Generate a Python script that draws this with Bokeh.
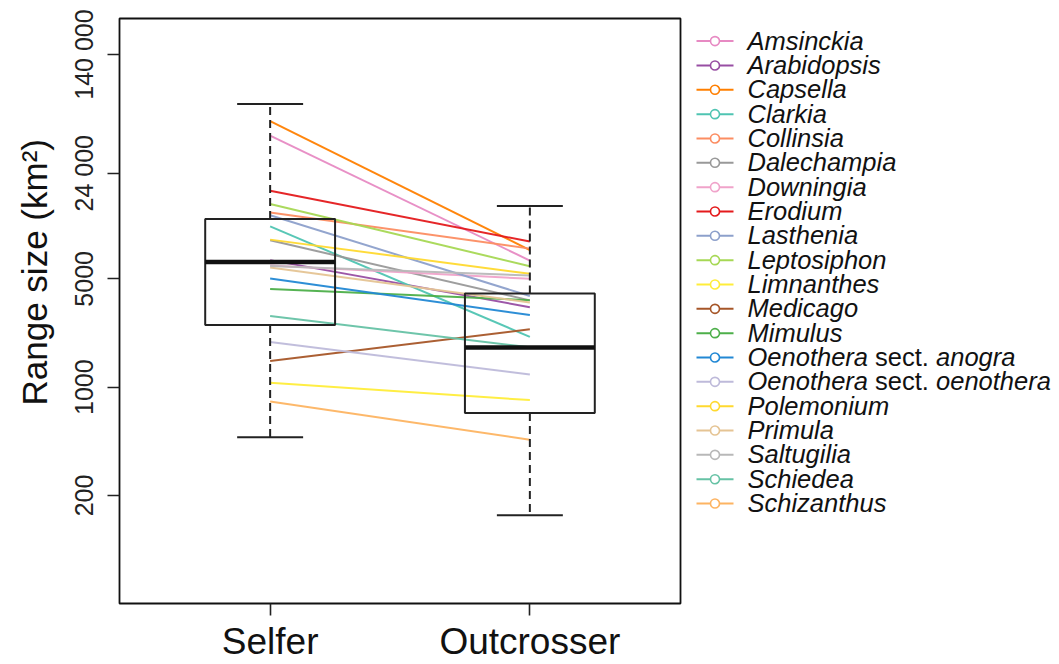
from bokeh.plotting import figure
from bokeh.models import Range1d, FixedTicker, Title, ColumnDataSource
from bokeh.layouts import row
from bokeh.embed import file_html
from bokeh.resources import INLINE
from bokeh.core.properties import value

# ---------------- data ----------------
groups = ["Selfer", "Outcrosser"]

genera = ["Amsinckia", "Arabidopsis", "Capsella", "Clarkia", "Collinsia",
          "Dalechampia", "Downingia", "Erodium", "Lasthenia", "Leptosiphon",
          "Limnanthes", "Medicago", "Mimulus", "Oenothera sect. anogra",
          "Oenothera sect. oenothera", "Polemonium", "Primula", "Saltugilia",
          "Schiedea", "Schizanthus"]

selfer_range = [41900, 6600, 52100, 10900, 13400,
                8860, 6090, 18500, 12860, 15190,
                1066, 1476, 4300, 5020,
                1956, 8950, 5910, 6040,
                2874, 809]

outcrosser_range = [6560, 3280, 7660, 2110, 7830,
                    3630, 5000, 8690, 3870, 6030,
                    825, 2360, 3640, 2920,
                    1207, 5385, 3520, 5250,
                    1808, 458]

colors = ["#E78AC3", "#984EA3", "#FF7F00", "#4FC4B2", "#FC8D62",
          "#999999", "#F0A3CA", "#E41A1C", "#8DA0CB", "#A6D854",
          "#FFED3A", "#A65628", "#4DAF4A", "#2288D4",
          "#BEBADA", "#FFD92F", "#E5C494", "#B8B8B8",
          "#66C2A5", "#FDB462"]

# boxplot statistics (lower whisker, Q1, median, Q3, upper whisker)
box_low = [475, 149]
box_q1 = [2516, 681]
box_med = [6413, 1800]
box_q3 = [12160, 4022]
box_high = [67000, 14740]

y_ticks = [200, 1000, 5000, 24000, 140000]
y_tick_labels = ["200", "1000", "5000", "24 000", "140 000"]

# ---------------- main plot ----------------
FONT = "Liberation Sans"
gpos = {g: i + 1 for i, g in enumerate(groups)}
BOX_HALF = 0.25
CAP_HALF = 0.127
H = 664

p = figure(width=690, height=H, y_axis_type="log",
           x_range=Range1d(0.42, 2.58), y_range=Range1d(40.2, 239000),
           output_backend="svg", toolbar_location=None,
           min_border_left=118, min_border_right=10,
           min_border_top=18, min_border_bottom=59)
p.grid.visible = False
p.outline_line_color = "#111111"
p.outline_line_width = 1.8
p.background_fill_color = "white"
p.border_fill_color = "white"

# paired genus lines
src = ColumnDataSource(dict(
    x0=[gpos["Selfer"]] * len(genera), x1=[gpos["Outcrosser"]] * len(genera),
    y0=selfer_range, y1=outcrosser_range, color=colors, name=genera))
p.segment(x0="x0", y0="y0", x1="x1", y1="y1", line_color="color",
          line_width=2, line_alpha=0.95, source=src)

# boxplots
bx = [gpos[g] for g in groups]
box_src = ColumnDataSource(dict(
    x=bx, left=[x - BOX_HALF for x in bx], right=[x + BOX_HALF for x in bx],
    cl=[x - CAP_HALF for x in bx], cr=[x + CAP_HALF for x in bx],
    low=box_low, q1=box_q1, med=box_med, q3=box_q3, high=box_high))
p.segment(x0="x", y0="q3", x1="x", y1="high", line_color="#222222",
          line_width=2, line_dash="8 5", source=box_src)
p.segment(x0="x", y0="q1", x1="x", y1="low", line_color="#222222",
          line_width=2, line_dash="8 5", source=box_src)
p.segment(x0="cl", y0="high", x1="cr", y1="high", line_color="#222222",
          line_width=2, source=box_src)
p.segment(x0="cl", y0="low", x1="cr", y1="low", line_color="#222222",
          line_width=2, source=box_src)
p.quad(left="left", right="right", bottom="q1", top="q3", fill_color=None,
       line_color="#222222", line_width=2, source=box_src)
p.segment(x0="left", y0="med", x1="right", y1="med", line_color="#111111",
          line_width=4.5, line_cap="butt", source=box_src)

# y axis
ya = p.yaxis[0]
ya.ticker = FixedTicker(ticks=y_ticks, minor_ticks=[])
ya.major_label_overrides = {t: lab for t, lab in zip(y_ticks, y_tick_labels)}
ya.major_label_orientation = "vertical"
ya.major_label_text_font = FONT
ya.major_label_text_font_size = "25px"
ya.major_label_text_color = "#222222"
ya.major_label_standoff = 9
ya.major_tick_out = 12
ya.major_tick_in = 0
ya.major_tick_line_color = "#222222"
ya.major_tick_line_width = 1.6
ya.minor_tick_line_color = None
ya.axis_line_color = None

# y-axis title (R places it off-centre; start it at "R" position)
p.add_layout(Title(text="Range size (km²)", align="left", offset=198,
                   vertical_align="middle", standoff=26,
                   text_font=FONT, text_font_size="35px",
                   text_font_style="normal", text_color="#111111"), "left")

# x axis
xa = p.xaxis[0]
xa.ticker = FixedTicker(ticks=bx, minor_ticks=[])
xa.major_label_overrides = {gpos[g]: g for g in groups}
xa.major_label_text_font = FONT
xa.major_label_text_font_size = "37px"
xa.major_label_text_color = "#111111"
xa.major_label_standoff = 5
xa.major_tick_out = 12
xa.major_tick_in = 0
xa.major_tick_line_color = "#222222"
xa.major_tick_line_width = 1.6
xa.minor_tick_line_color = None
xa.axis_line_color = None

# ---------------- legend panel ----------------
LX0, LW = 690, 369
lg = figure(width=LW, height=H, x_range=Range1d(LX0, LX0 + LW),
            y_range=Range1d(H - 59, 18),
            output_backend="svg", toolbar_location=None,
            min_border=0, min_border_left=0, min_border_right=0,
            min_border_top=18, min_border_bottom=59)
lg.axis.visible = False
lg.grid.visible = False
lg.outline_line_color = None
lg.background_fill_color = "white"
lg.border_fill_color = "white"

ROW0, ROWSTEP = 40.7, 24.42
FS = 25.5
ys = [ROW0 + i * ROWSTEP for i in range(len(genera))]
lg.segment(x0=696, y0=ys, x1=733, y1=ys, line_color=colors, line_width=2)
lg.scatter(x=[714.5] * len(genera), y=ys, marker="circle", size=9,
           line_color=colors, fill_color="white", line_width=1.6)

# Arial advance widths (em/1000) to place mixed italic/roman parts
adv = {"O": 778, "e": 556, "n": 556, "o": 556, "t": 278, "h": 556, "r": 333,
       "a": 556, " ": 278, "s": 500, "c": 500, ".": 278, "g": 556}
def width_em(s):
    return sum(adv.get(ch, 556) for ch in s) / 1000.0

TX0 = 747
TEXT_SHIFT = 9.5   # SVG baseline correction
tx, ty, tt, tst = [], [], [], []
for i, name in enumerate(genera):
    base_y = ys[i] + 0.358 * FS - TEXT_SHIFT
    if " sect. " in name:
        genus, sub = name.split(" sect. ")
        parts = [(genus, "italic"), ("sect.", "normal"), (sub, "italic")]
        off = 0.0
        for txt, st in parts:
            tx.append(TX0 + off * FS); ty.append(base_y); tt.append(txt); tst.append(st)
            off += width_em(txt + " ")
    else:
        tx.append(TX0); ty.append(base_y); tt.append(name); tst.append("italic")

lsrc = ColumnDataSource(dict(x=tx, y=ty, text=tt, style=tst))
lg.text(x="x", y="y", text="text", source=lsrc, text_font=value(FONT),
        text_font_size=f"{FS}px", text_font_style="style",
        text_baseline="alphabetic", text_align="left", text_color="#111111")

layout = row(p, lg, spacing=0)
open("out.html", "w").write(file_html(layout, INLINE))
